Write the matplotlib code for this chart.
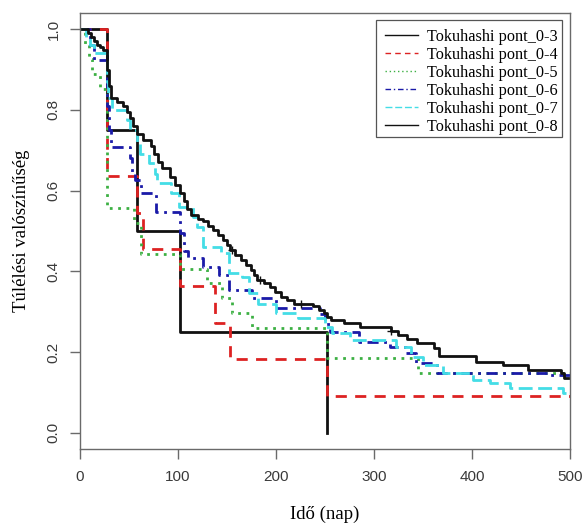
import matplotlib
matplotlib.use("Agg")
import matplotlib.pyplot as plt
from matplotlib.lines import Line2D
from matplotlib.patches import Rectangle

# ---- data ----
labels = ["Tokuhashi pont_0-3", "Tokuhashi pont_0-4", "Tokuhashi pont_0-5",
          "Tokuhashi pont_0-6", "Tokuhashi pont_0-7", "Tokuhashi pont_0-8"]

t03 = [0, 28, 58, 102, 252]
s03 = [1.0, 0.75, 0.5, 0.25, 0.0]

t04 = [0, 28, 58, 64, 102, 138, 153, 252]
s04 = [1.0, 0.636, 0.545, 0.455, 0.364, 0.273, 0.182, 0.091]

t05 = [0, 5, 9, 12, 20, 28, 55, 62, 102, 130, 145, 155, 176, 252, 345]
s05 = [1.0, 0.963, 0.926, 0.889, 0.852, 0.556, 0.519, 0.444, 0.407, 0.370,
       0.333, 0.296, 0.259, 0.185, 0.148]

t06 = [0, 10, 14, 28, 30, 32, 51, 53, 56, 62, 78, 102, 106, 110, 126, 142,
       152, 175, 200, 245, 250, 255, 285, 316, 333, 343, 364, 480]
s06 = [1.0, 0.96, 0.923, 0.81, 0.75, 0.708, 0.68, 0.64, 0.626, 0.594, 0.547,
       0.495, 0.45, 0.433, 0.41, 0.39, 0.354, 0.334, 0.31, 0.295, 0.27, 0.25,
       0.225, 0.213, 0.198, 0.173, 0.148, 0.143]

t07 = [0, 6, 10, 14, 28, 29, 33, 48, 51, 58, 61, 70, 77, 79, 93, 101, 115,
       119, 126, 144, 152, 165, 172, 182, 200, 222, 250, 257, 275, 322, 338,
       350, 370, 401, 418, 439, 493]
s07 = [1.0, 0.98, 0.96, 0.94, 0.87, 0.83, 0.80, 0.775, 0.75, 0.72, 0.69,
       0.668, 0.64, 0.62, 0.594, 0.56, 0.535, 0.51, 0.46, 0.445, 0.396, 0.386,
       0.347, 0.32, 0.297, 0.285, 0.262, 0.247, 0.23, 0.213, 0.188, 0.168,
       0.148, 0.131, 0.124, 0.111, 0.099]

t08 = [0, 8, 11, 14, 17, 20, 23, 28, 30, 32, 38, 44, 48, 51, 54, 58, 64, 72,
       76, 80, 84, 92, 97, 102, 106, 109, 113, 120, 126, 131, 136, 141, 146,
       150, 153, 158, 164, 169, 174, 178, 181, 188, 194, 199, 205, 211, 218,
       238, 244, 249, 252, 256, 269, 286, 317, 324, 334, 344, 361, 366, 404,
       432, 457, 491, 494]
s08 = [1.0, 0.99, 0.98, 0.97, 0.96, 0.955, 0.948, 0.9, 0.86, 0.83, 0.82, 0.81,
       0.795, 0.78, 0.76, 0.74, 0.725, 0.71, 0.69, 0.67, 0.655, 0.635, 0.615,
       0.595, 0.575, 0.555, 0.54, 0.53, 0.525, 0.512, 0.502, 0.49, 0.478,
       0.465, 0.453, 0.44, 0.428, 0.415, 0.403, 0.39, 0.379, 0.37, 0.362,
       0.35, 0.337, 0.328, 0.32, 0.313, 0.305, 0.297, 0.288, 0.28, 0.272,
       0.263, 0.253, 0.243, 0.232, 0.222, 0.21, 0.19, 0.175, 0.168, 0.156,
       0.148, 0.136]

censor08_t = [155, 184, 225, 317]

last_time = [252, 500, 500, 500, 500, 500]

times = [t03, t04, t05, t06, t07, t08]
survs = [s03, s04, s05, s06, s07, s08]

colors = ["#111111", "#dd2222", "#3cb043", "#1a1aa8", "#44dde6", "#111111"]
dashes = [None, (4, 3), (1, 2), (4, 2, 1, 2), (5, 2), None]

W, H = 582, 527

# ---- figure ----
fig = plt.figure(figsize=(W / 100, H / 100), dpi=100)
ax = fig.add_axes([80 / W, (H - 449) / H, 490 / W, 436 / H])

for t, s, lt, c, d in zip(times, survs, last_time, colors, dashes):
    xs = list(t) + [lt]
    ys = list(s) + [s[-1]]
    ln, = ax.step(xs, ys, where="post", color=c, lw=2.0)
    if d is not None:
        ln.set_dashes(d)

# censor marks on the largest group
def step_val(t, s, x):
    v = s[0]
    for ti, si in zip(t, s):
        if ti <= x:
            v = si
    return v

ax.plot(censor08_t, [step_val(t08, s08, x) for x in censor08_t], "+",
        color="#111111", ms=6, mew=1.0)

ax.set_xlim(0, 500)
ax.set_ylim(-0.04, 1.04)
ax.set_xticks([0, 100, 200, 300, 400, 500])
ax.set_yticks([0.0, 0.2, 0.4, 0.6, 0.8, 1.0])
ax.set_yticklabels(["0.0", "0.2", "0.4", "0.6", "0.8", "1.0"],
                   rotation=90, va="center")

spine_col = "#6a6a6a"
for sp in ax.spines.values():
    sp.set_color(spine_col)
    sp.set_linewidth(1.0)
ax.tick_params(axis="both", direction="out", length=7, width=1.0,
               color=spine_col, labelsize=11)
ax.tick_params(axis="x", pad=8)
ax.tick_params(axis="y", pad=7)
for lab in ax.get_xticklabels() + ax.get_yticklabels():
    lab.set_family("Liberation Sans")
    lab.set_color("#3a3a3a")

ax.set_xlabel("Idő (nap)", family="Liberation Serif", fontsize=13.5,
              labelpad=16)
ax.set_ylabel("Túlélési valószínűség", family="Liberation Serif",
              fontsize=13.5, labelpad=12)

# legend box (drawn separately, like R's legend frame)
frame = Rectangle((376 / W, (H - 137) / H), 186 / W, 117 / H,
                  transform=fig.transFigure, facecolor="white",
                  edgecolor="#555555", lw=0.9, zorder=4)
ax.add_patch(frame)

handles = []
for c, d in zip(colors, dashes):
    h = Line2D([0], [0], color=c, lw=1.0)
    if d is not None:
        h.set_dashes(d)
    handles.append(h)

leg = ax.legend(handles, labels, loc="upper right",
                bbox_to_anchor=(558 / W, (H - 29) / H),
                bbox_transform=fig.transFigure, borderaxespad=0,
                frameon=False,
                prop={"family": "Liberation Serif", "size": 11.7},
                handlelength=2.0, handletextpad=0.6, labelspacing=0.12,
                borderpad=0)
leg.set_zorder(5)

fig.savefig("out.png", dpi=100)
